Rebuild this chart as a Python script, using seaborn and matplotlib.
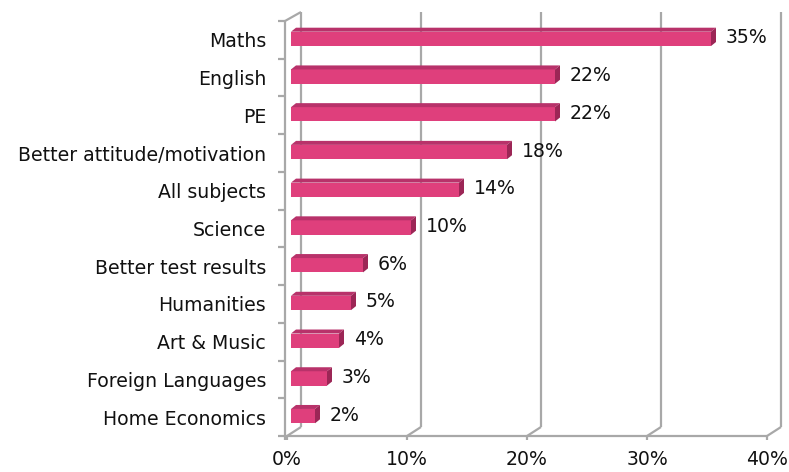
import matplotlib
matplotlib.use("Agg")
import matplotlib.pyplot as plt
from matplotlib.patches import Polygon
import seaborn as sns
import pandas as pd

# Survey results: subjects / areas reported as improved
categories = [
    "Maths", "English", "PE", "Better attitude/motivation", "All subjects",
    "Science", "Better test results", "Humanities", "Art & Music",
    "Foreign Languages", "Home Economics",
]
values = [35, 22, 22, 18, 14, 10, 6, 5, 4, 3, 2]
tick_values = [0, 10, 20, 30, 40]
tick_labels = ["0%", "10%", "20%", "30%", "40%"]

FRONT = "#DF3F7C"
TOP = "#B8326A"
SIDE = "#9C2656"
FRAME = "#A8A8A8"

sns.set_style("white")
plt.rcParams["font.family"] = ["DejaVu Sans"]
FS = 13.6

W, H = 789, 472
fig = plt.figure(figsize=(W / 100, H / 100), dpi=100)
ax = fig.add_axes([287 / W, (H - 436) / H, 480 / W, 415 / H])

df = pd.DataFrame({"category": categories, "value": values})
sns.barplot(data=df, x="value", y="category", orient="h", color=FRONT,
            saturation=1, width=0.38, ax=ax, zorder=3)

ax.set_xlim(0, 40)
ax.set_ylim(len(categories) - 0.5, -0.5)
for s in ax.spines.values():
    s.set_visible(False)
ax.set_xlabel("")
ax.set_ylabel("")

fig.canvas.draw()


def px(dx, dy):
    """Convert a pixel displacement (right, up) into data units."""
    p0 = ax.transData.transform((0, 0))
    q = ax.transData.inverted().transform((p0[0] + dx, p0[1] + dy))
    return q[0], q[1]


y_top, y_bot = -0.5, len(categories) - 0.5
gx, gy = px(14, 9)          # depth of the chart box
lx, _ = px(-2, 0)           # front-left edge sits just left of zero

line_kw = dict(color=FRAME, lw=1.6, solid_capstyle="butt", clip_on=False, zorder=1)

# back wall gridlines and floor connectors
for t in tick_values:
    ax.plot([t + gx, t + gx], [y_top + gy, y_bot + gy], **line_kw)
    ax.plot([t, t + gx], [y_bot, y_bot + gy], **line_kw)
    _, tdy = px(0, -4)
    ax.plot([t, t], [y_bot, y_bot + tdy], **line_kw)

# front floor edge and left wall edges
ax.plot([lx, 40], [y_bot, y_bot], **line_kw)
_, bdy = px(0, -4)
ax.plot([lx, lx], [y_top, y_bot + bdy], **line_kw)
ax.plot([lx, gx], [y_top, y_top + gy], **line_kw)

# category separators on the left wall
tlx, _ = px(-7, 0)
for k in range(len(categories) + 1):
    yb = k - 0.5
    ax.plot([tlx + lx, lx], [yb, yb], **line_kw)

# give each bar a top and an end face
bx, by = px(4, 1)
dx, dy = px(5, 4)
for patch in ax.patches:
    patch.set_x(patch.get_x() + bx)
    patch.set_y(patch.get_y() + by)
    patch.set_edgecolor("none")
    x0 = patch.get_x()
    x1 = x0 + patch.get_width()
    yt = patch.get_y()
    yb = yt + patch.get_height()
    ax.add_patch(Polygon([(x0, yt), (x1, yt), (x1 + dx, yt + dy), (x0 + dx, yt + dy)],
                         closed=True, facecolor=TOP, edgecolor="none",
                         zorder=3, clip_on=False))
    ax.add_patch(Polygon([(x1, yt), (x1 + dx, yt + dy), (x1 + dx, yb + dy), (x1, yb)],
                         closed=True, facecolor=SIDE, edgecolor="none",
                         zorder=3, clip_on=False))
    patch.set_clip_on(False)

# value labels
lab_dx, lab_dy = px(5 + 10, 2)
for i, v in enumerate(values):
    ax.text(v + bx + lab_dx, i + lab_dy, f"{v}%", ha="left", va="center",
            fontsize=FS, color="#111111", zorder=4)

ax.set_xticks(tick_values, tick_labels)
ax.tick_params(axis="x", length=0, pad=10, labelsize=FS, colors="#111111")
ax.tick_params(axis="y", length=0, pad=15, labelsize=FS, colors="#111111")
ax.grid(False)

fig.savefig("out.png", dpi=100)
